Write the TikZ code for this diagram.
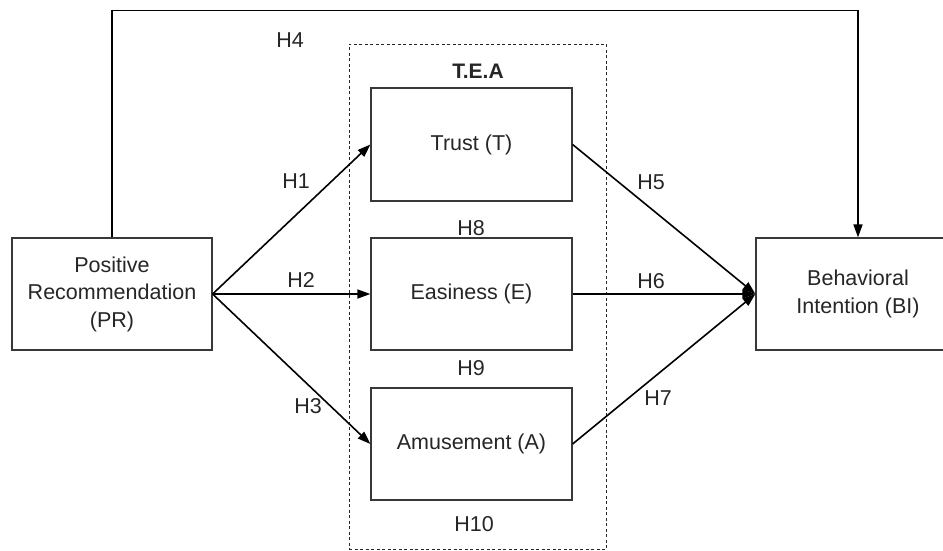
\documentclass[tikz,border=0pt]{standalone}
\usepackage{fontspec}
\setmainfont{Liberation Sans}
\usetikzlibrary{arrows.meta}
\begin{document}
\begin{tikzpicture}[x=1pt,y=-1pt,
  box/.style={draw=black!78, line width=1.2pt, minimum width=200pt, minimum height=112pt,
    inner sep=0pt, align=center, font=\fontsize{21.5}{27.5}\selectfont, text=black!85},
  lbl/.style={font=\fontsize{21.5}{24}\selectfont, text=black!85, inner sep=0pt},
  conn/.style={line width=1.6pt, draw=black, -{Triangle[length=13pt,width=9pt]}},
  group/.style={draw=black!85, line width=0.9pt, dash pattern=on 3pt off 2.5pt,
    minimum width=257pt, minimum height=505.5pt, inner sep=0pt}]
\useasboundingbox (0,0) rectangle (943,551);
\clip (0,0) rectangle (943,551);
\fill[white] (0,0) rectangle (943,551);
% group box
\node[group] (tea) at (477.5,296.75) {};
\node[lbl, font=\fontsize{21}{24}\bfseries\selectfont] (teatitle) at (478,71) {T.E.A};
% boxes
\node[box] (pr) at (112,294) {Positive\\Recommendation\\(PR)};
\node[box, minimum width=201pt, minimum height=113pt] (t) at (471.5,144.5) {Trust (T)};
\node[box, minimum width=201pt] (e) at (471.5,294) {Easiness (E)};
\node[box, minimum width=201pt] (a) at (471.5,444) {Amusement (A)};
\node[box, minimum width=204pt] (bi) at (858,294) {Behavioral\\Intention (BI)};
% connectors
\draw[conn] (pr.north) -- ++(0,-227) -| (bi.north);
\draw[conn] (pr.east) -- (t.west);
\draw[conn] (pr.east) -- (e.west);
\draw[conn] (pr.east) -- (a.west);
\draw[conn] (t.east) -- (bi.west);
\draw[conn] (e.east) -- (bi.west);
\draw[conn] (a.east) -- (bi.west);
% labels
\node[lbl] (h4) at (290,40) {H4};
\node[lbl] (h1) at (296,181) {H1};
\node[lbl] (h2) at (301,280) {H2};
\node[lbl] (h3) at (308,406) {H3};
\node[lbl] (h5) at (651,182) {H5};
\node[lbl] (h6) at (651,281) {H6};
\node[lbl] (h7) at (658,398) {H7};
\node[lbl] (h8) at (471,228) {H8};
\node[lbl] (h9) at (471,368) {H9};
\node[lbl] (h10) at (474,524) {H10};
\end{tikzpicture}
\end{document}
